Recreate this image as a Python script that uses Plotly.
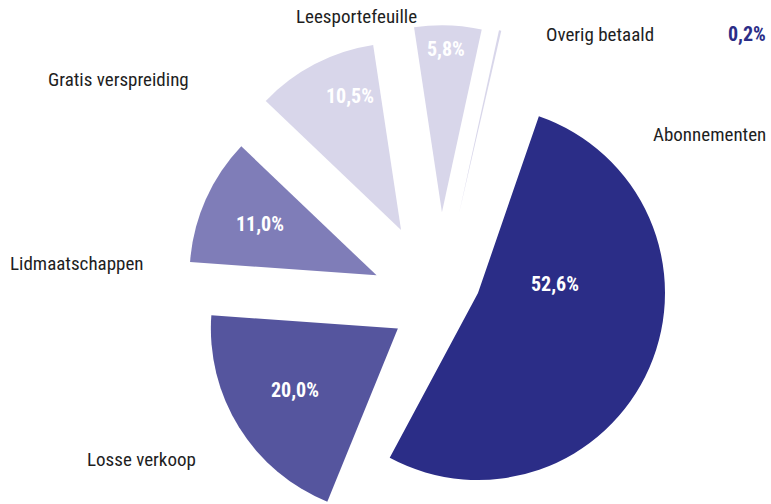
import plotly.graph_objects as go

# ---- data ----
labels = ["Abonnementen", "Losse verkoop", "Lidmaatschappen",
          "Gratis verspreiding", "Leesportefeuille", "Overig betaald"]
values = [52.6, 20.0, 11.0, 10.5, 5.8, 0.2]
pct_labels = [f"{v:.1f}".replace(".", ",") + "%" for v in values]

# ---- styling / layout (not data) ----
colors = ["#2B2D87", "#55559E", "#7F7DB8", "#D8D6EA", "#D8D6EA", "#D8D6EA"]
CLEAR = "rgba(0,0,0,0)"
W = 771
R_PX = 187  # pie radius in pixels

# The big slice is drawn by its own pie layer (slightly different explosion),
# the five smaller slices by a second layer.
layers = [
    dict(show=[False, True, True, True, True, True],
         pulls=[0, 0.259, 0.365, 0.440, 0.486, 0.494],
         rot=13, centre=(439, 303)),
    dict(show=[True, False, False, False, False, False],
         pulls=[0, 0, 0, 0, 0, 0],
         rot=19, centre=(478, 293)),
]

half_sizes = [R_PX * (1 + max(l["pulls"])) for l in layers]
H = int(round(max(l["centre"][1] + hs for l, hs in zip(layers, half_sizes)))) + 1

# pixel centres for category-name labels and value labels
name_px = [(709, 134), (141, 459), (77, 263), (118, 79), (356, 16), (600, 34)]
pct_px = [(555, 284), (295, 390), (260, 224), (350, 96), (446, 49), (747, 34)]
pct_colors = ["white", "white", "white", "white", "white", "#2B2D87"]

FONT = "Liberation Sans Narrow, Arial Narrow, Roboto Condensed, Roboto, sans-serif"

fig = go.Figure()
for layer, hs in zip(layers, half_sizes):
    cx, cy = layer["centre"]
    fig.add_trace(go.Pie(
        labels=labels,
        values=values,
        sort=False,
        direction="clockwise",
        rotation=layer["rot"],
        pull=layer["pulls"],
        marker=dict(colors=[c if s else CLEAR for c, s in zip(colors, layer["show"])],
                    line=dict(width=0)),
        textinfo="none",
        hovertemplate="%{label}: %{value}%<extra></extra>",
        domain=dict(x=[(cx - hs) / W, (cx + hs) / W],
                    y=[1 - (cy + hs) / H, 1 - (cy - hs) / H]),
        showlegend=False,
    ))


def to_paper(px, py):
    return px / W, 1 - py / H


annotations = []
for name, (px, py) in zip(labels, name_px):
    x, y = to_paper(px, py)
    annotations.append(dict(x=x, y=y, xref="paper", yref="paper", text=name,
                            showarrow=False, xanchor="center", yanchor="middle",
                            font=dict(family=FONT, size=19, color="#1E1E1E")))
for txt, (px, py), c in zip(pct_labels, pct_px, pct_colors):
    x, y = to_paper(px, py)
    annotations.append(dict(x=x, y=y, xref="paper", yref="paper",
                            text=f"<b>{txt}</b>",
                            showarrow=False, xanchor="center", yanchor="middle",
                            font=dict(family=FONT, size=20, color=c)))

fig.update_layout(
    width=W, height=H,
    margin=dict(l=0, r=0, t=0, b=0),
    paper_bgcolor="white",
    plot_bgcolor="white",
    annotations=annotations,
)

fig.write_html(
    "out.html",
    config={"displayModeBar": False},
    post_script="document.body.style.margin='0';document.body.style.overflow='hidden';"
                "document.documentElement.style.overflow='hidden';",
)
